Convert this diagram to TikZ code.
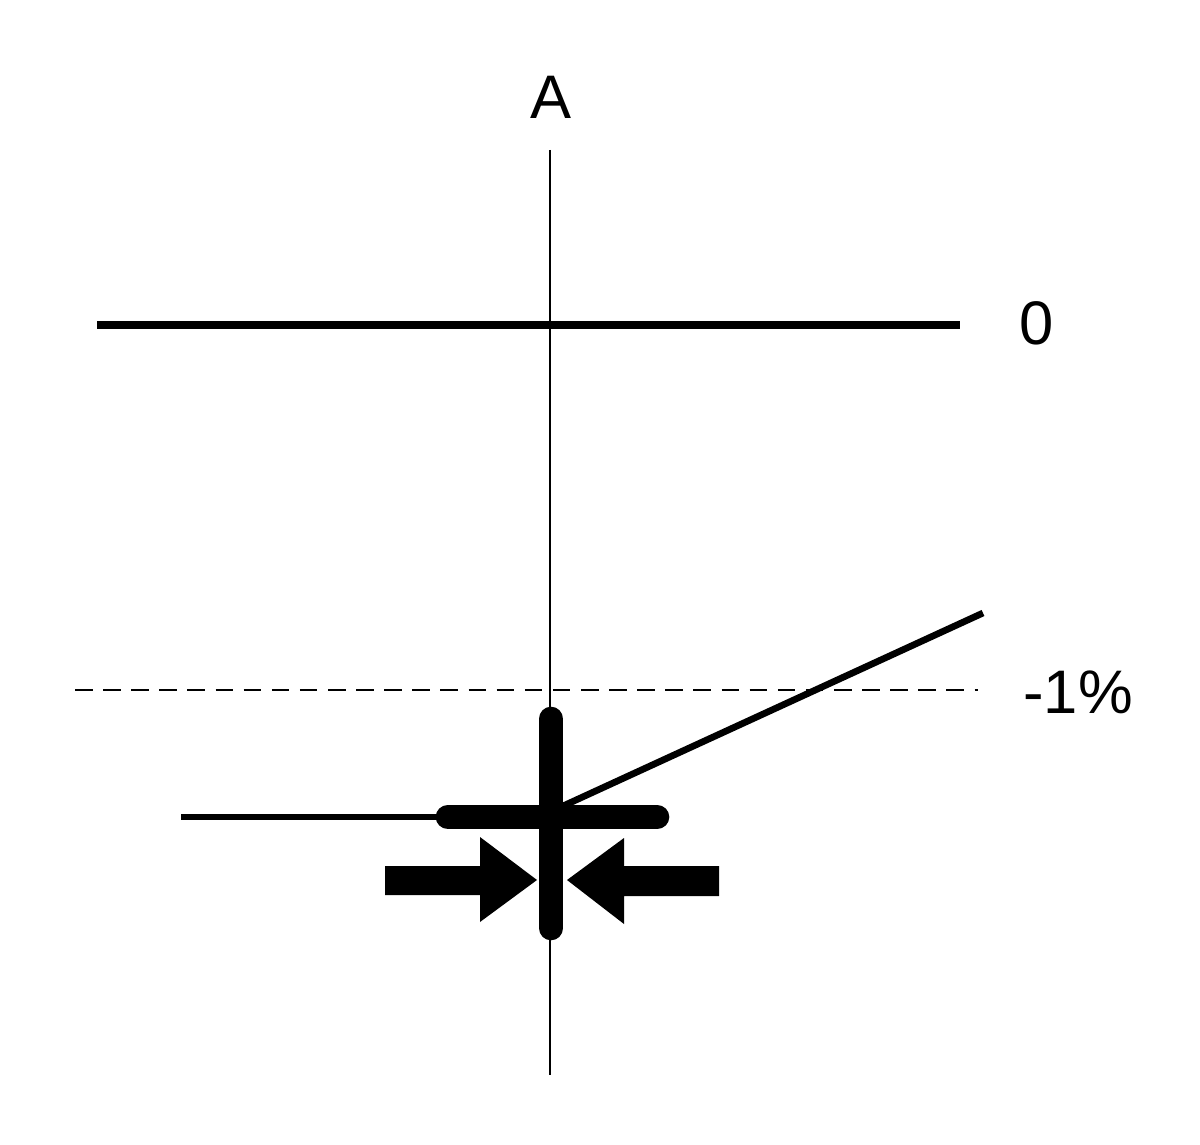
\documentclass[tikz,border=0pt]{standalone}
\usepackage{fontspec}
\setmainfont{Liberation Sans}
\begin{document}
\begin{tikzpicture}[x=0.02cm,y=-0.02cm,
  lbl/.style={font=\fontsize{35}{38}\selectfont, inner sep=0pt},
  thinline/.style={line width=1.6pt},
  medline/.style={line width=3.8pt},
  bar/.style={line width=14pt, line cap=round},
  dashline/.style={line width=1.1pt, dash pattern=on 10pt off 6pt}]
\useasboundingbox (0,0) rectangle (1200,1145);
% coordinates
\coordinate (vtop) at (550,150);
\coordinate (vbot) at (550,1075);
\coordinate (zl) at (97,325);
\coordinate (zr) at (960,325);
\coordinate (dl) at (75,690);
\coordinate (dr) at (978,690);
\coordinate (sl) at (563,806);
\coordinate (sr) at (983,613);
\coordinate (hl) at (181,817);
\coordinate (hb1) at (448,817);
\coordinate (hb2) at (657,817);
\coordinate (vb1) at (551,719);
\coordinate (vb2) at (551,928);
% labels
\node[lbl] (A) at (551,97) {A};
\node[lbl] (zero) at (1037,323) {0};
\node[lbl] (minus) at (1078,692) {-1\%};
% lines
\draw[thinline] (vtop) -- (vbot);
\draw[line width=4pt] (zl) -- (zr);
\draw[dashline] (dl) -- (dr);
\draw[medline] (hl) -- (hb1);
\draw[medline] (sl) -- (sr);
\draw[bar] (hb1) -- (hb2);
\draw[bar] (vb1) -- (vb2);
% arrows
\fill (385,866) -- (480,866) -- (480,837) -- (537,880) -- (480,922) -- (480,895) -- (385,895) -- cycle;
\fill (719,866) -- (624,866) -- (624,838) -- (567,880) -- (624,924) -- (624,896) -- (719,896) -- cycle;
\end{tikzpicture}
\end{document}
